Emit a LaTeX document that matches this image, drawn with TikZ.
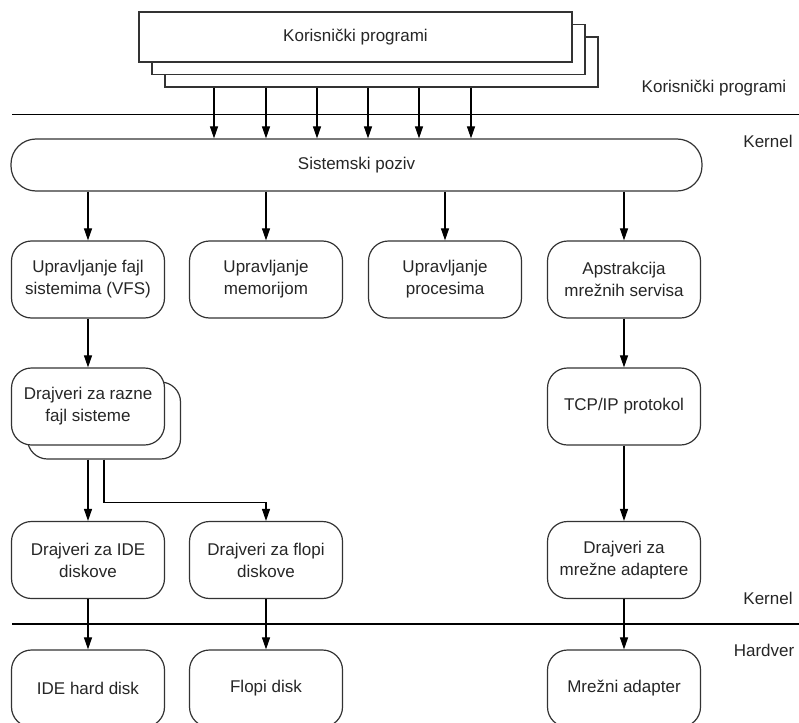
\documentclass[tikz,border=0pt]{standalone}
\usepackage{fontspec}
\setmainfont{Liberation Sans}
\usetikzlibrary{arrows.meta}
\definecolor{edge}{HTML}{333333}
\begin{document}
\begin{tikzpicture}[x=1pt,y=-1pt,
  every node/.style={font=\fontsize{17}{22}\selectfont, text=black!85},
  rbox/.style={draw=edge, line width=1.2pt, fill=white, rounded corners=20pt,
    minimum width=153pt, minimum height=77pt, align=center, inner sep=0pt},
  pbox/.style={draw=edge, line width=1.2pt, fill=white,
    minimum width=433pt, minimum height=50pt, inner sep=0pt},
  arr/.style={draw=black, line width=1.1pt, -{Triangle[length=12pt,width=8pt]}},
  sep/.style={draw=black, line width=1.1pt},
  lbl/.style={anchor=center}]
\useasboundingbox (0,0) rectangle (799,722);
\clip (0,0) rectangle (799,722);
\fill[white] (0,0) rectangle (799,722);

% user programs (stacked)
\node[pbox] (p3) at (381.5,62) {};
\node[pbox] (p2) at (368.5,49.5) {};
\node[pbox] (p1) at (355.5,37) {Korisnički programi};

% separators and layer labels
\coordinate (s1a) at (12,114.5);
\coordinate (s1b) at (799,114.5);
\draw[sep] (s1a) -- (s1b);
\coordinate (s2a) at (12,624);
\coordinate (s2b) at (799,624);
\draw[sep] (s2a) -- (s2b);
\node[lbl] (lu) at (714,88) {Korisnički programi};
\node[lbl] (lk1) at (768,141) {Kernel};
\node[lbl] (lk2) at (768,598) {Kernel};
\node[lbl] (lh) at (764,650) {Hardver};

% system call
\node[draw=edge, line width=1.2pt, fill=white, rounded corners=25pt,
  minimum width=691pt, minimum height=52pt, inner sep=0pt] (sys) at (356.5,165) {Sistemski poziv};

\foreach \x in {214,266,317,368,419,471}
  \draw[arr] (p3.south -| \x,0) -- (sys.north -| \x,0);

% subsystems
\node[rbox] (vfs) at (88,279.5) {Upravljanje fajl\\sistemima (VFS)};
\node[rbox] (mem) at (266,279.5) {Upravljanje\\memorijom};
\node[rbox] (proc) at (445,279.5) {Upravljanje\\procesima};
\node[rbox] (net) at (624,279.5) {Apstrakcija\\mrežnih servisa};

\draw[arr] (sys.south -| vfs.north) -- (vfs.north);
\draw[arr] (sys.south -| mem.north) -- (mem.north);
\draw[arr] (sys.south -| proc.north) -- (proc.north);
\draw[arr] (sys.south -| net.north) -- (net.north);

% fs drivers (stacked)
\node[rbox] (drvback) at (104,420.5) {};
\node[rbox] (drv) at (88,406.5) {Drajveri za razne\\fajl sisteme};
\node[rbox] (tcp) at (624,406.5) {TCP/IP protokol};

\draw[arr] (vfs.south) -- (drv.north);
\draw[arr] (net.south) -- (tcp.north);

% device drivers
\node[rbox] (ide) at (88,560) {Drajveri za IDE\\diskove};
\node[rbox] (flop) at (266,560) {Drajveri za flopi\\diskove};
\node[rbox] (nic) at (624,560) {Drajveri za\\mrežne adaptere};

\draw[arr] (drv.south |- drvback.south) -- (ide.north);
\draw[arr] (drvback.south) -- ++(0,43) -| (flop.north);
\draw[arr] (tcp.south) -- (nic.north);

% hardware
\node[rbox] (hdd) at (88,688.5) {IDE hard disk};
\node[rbox] (fd) at (266,688.5) {Flopi disk};
\node[rbox] (mad) at (624,688.5) {Mrežni adapter};

\draw[arr] (ide.south) -- (hdd.north);
\draw[arr] (flop.south) -- (fd.north);
\draw[arr] (nic.south) -- (mad.north);
\end{tikzpicture}
\end{document}
